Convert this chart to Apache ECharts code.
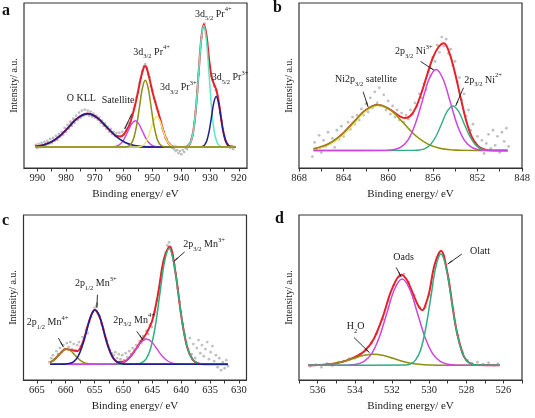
<!DOCTYPE html>
<html><head><meta charset="utf-8">
<script src="https://cdn.jsdelivr.net/npm/echarts@6/dist/echarts.min.js"></script>
<style>html,body{margin:0;padding:0;background:#fff}#c{width:535px;height:418px}</style>
</head><body><div id="c"></div>
<script>
// ---------- Panel a : Pr 3d ----------
const aTicks = [920,930,940,950,960,970,980,990];
const aMinor = [920,925,930,935,940,945,950,955,960,965,970,975,980,985,990];
const aPts = [[990.5,2],[990,-1],[989.5,3],[989,0],[988.5,4],[988,1],[987.5,5],[987,2],[986.5,6],[986,3],[985.5,8],[985,4],[984.5,9],[984,6],[983.5,11],[983,7],[982.5,13],[982,10],[981.5,15],[981,12],[980.5,19],[980,15],[979.5,22],[979,18],[978.5,25],[978,21],[977.5,28],[977,24],[976.5,31],[976,27],[975.5,34],[975,29],[974.5,36],[974,31],[973.5,37],[973,32],[972.5,36],[972,31],[971.5,35],[971,30],[970.5,33],[970,29],[969.5,31],[969,27],[968.5,29],[968,24],[967.5,26],[967,21],[966.5,23],[966,18],[965.5,20],[965,15],[964.5,18],[964,13],[963.5,15],[963,11],[962.5,14],[962,10],[961.5,14],[961,11],[960.5,15],[960,12],[959.5,19],[959,16],[958.5,24],[958,21],[957.5,29],[957,31],[956.5,38],[956,41],[955.5,49],[955,54],[954.5,63],[954,68],[953.5,75],[953,80],[952.5,82],[952,78],[951.5,72],[951,69],[950.5,60],[950,56],[949.5,48],[949,45],[948.5,38],[948,35],[947.5,28],[947,25],[946.5,18],[946,15],[945.5,9],[945,8],[944.5,4],[944,3],[943.5,1],[943,-1],[942.5,-2],[942,-4],[941.5,-3],[941,-6],[940.5,-4],[940,-7],[939.5,-3],[939,-5],[938.5,-1],[938,-2],[937.5,2],[937,3],[936.5,8],[936,12],[935.5,24],[935,35],[934.5,55],[934,72],[933.5,92],[933,108],[932.5,118],[932,122],[931.5,112],[931,103],[930.5,88],[930,79],[929.5,70],[929,66],[928.5,60],[928,56],[927.5,50],[927,43],[926.5,34],[926,26],[925.5,17],[925,11],[924.5,6],[924,3],[923.5,1],[923,-1],[922.5,1],[922,-2],[921.5,0]];
const aFit = [[990.6,0.7],[989,1.4],[988,1.9],[987,2.8],[986,4.2],[985,5.2],[984,7],[983,9],[982,11.3],[981,14],[980,17],[979,20],[978,23.5],[977,26.5],[976,28.5],[975,30.5],[974,32],[973,33],[972,33],[971,32],[970,30.5],[969,28.5],[968,26],[967,23],[966,20],[965,17],[964,14.5],[963,11.8],[962,10.8],[961,10.4],[960,12.5],[959,16.8],[958,22],[957,31],[956,42],[955,55],[954,69],[953,79],[952.5,80],[952,78],[951,67],[950,54.3],[949,44],[948,34.4],[947,24],[946,14],[945,6.5],[944,2.4],[943,0.7],[942,0.2],[940,0],[938.5,0.3],[937.6,1.3],[936.7,5.3],[935.8,16.2],[934.9,39],[934,72.8],[933.1,106.2],[932.2,121.4],[931.3,111.1],[930.4,87.6],[929.5,69.3],[928.6,61.7],[927.9,57],[927.1,46.3],[926.3,30.7],[925.5,16.2],[924.7,6.8],[923.9,2.2],[923.1,0.55],[921.2,0]];
const aOKLL = [[990.6,0.7],[988.75,1.5],[985.5,4.5],[982.25,10.7],[979,20],[975.75,29.1],[972.5,33],[969.25,29.1],[966,20],[962.75,10.7],[959.5,4.5],[956.25,1.5],[953,0.4],[949.75,0.1],[921.2,0]];
const aSatellite = [[990.6,0],[963.5,0.3],[962.25,1.1],[961,3.5],[959.75,8.4],[958.5,15.8],[957.25,22.9],[956,26],[954.75,22.9],[953.5,15.8],[952.25,8.4],[951,3.5],[949.75,1.1],[948.5,0.3],[921.2,0]];
const aPr4_32 = [[990.6,0],[959.5,0.15],[958.5,0.7],[957.5,2.9],[956.5,8.9],[955.5,21.4],[954.5,40],[953.5,58.2],[952.5,66],[951.5,58.2],[950.5,40],[949.5,21.4],[948.5,8.9],[947.5,2.9],[946.5,0.7],[945.5,0.15],[921.2,0]];
const aPr3_32 = [[990.6,0],[955.5,0.07],[954.5,0.33],[953.5,1.3],[952.5,4.1],[951.5,9.7],[950.5,18.2],[949.5,26.5],[948.5,30],[947.5,26.5],[946.5,18.2],[945.5,9.7],[944.5,4.1],[943.5,1.3],[942.5,0.33],[941.5,0.07],[921.2,0]];
const aPr4_52 = [[990.6,0],[938.5,0.27],[937.6,1.3],[936.7,5.3],[935.8,16.2],[934.9,39],[934,72.8],[933.1,105.9],[932.2,120],[931.3,105.9],[930.4,72.8],[929.5,39],[928.6,16.2],[927.7,5.3],[926.8,1.3],[925.9,0.27],[921.2,0]];
const aPr3_52 = [[990.6,0],[933.5,0.11],[932.7,0.55],[931.9,2.2],[931.1,6.8],[930.3,16.2],[929.5,30.3],[928.7,44.1],[927.9,50],[927.1,44.1],[926.3,30.3],[925.5,16.2],[924.7,6.8],[923.9,2.2],[923.1,0.55],[922.3,0.11],[921.2,0]];

// ---------- Panel b : Ni 2p ----------
const bTicks = [848,852,856,860,864,868];
const bMinor = [848,850,852,854,856,858,860,862,864,866,868];
const bPts = [[866.8,-6],[866.6,8],[866.4,2],[866.2,15],[866,-2],[865.8,10],[865.6,4],[865.4,18],[865.2,7],[865,12],[864.8,3],[864.6,20],[864.4,11],[864.2,24],[864,14],[863.8,19],[863.6,28],[863.4,21],[863.2,33],[863,26],[862.8,35],[862.6,30],[862.4,41],[862.2,35],[862,46],[861.8,38],[861.6,52],[861.4,42],[861.2,58],[861,47],[860.8,62],[860.6,44],[860.4,55],[860.2,40],[860,49],[859.8,36],[859.6,44],[859.4,33],[859.2,40],[859,30],[858.8,37],[858.6,28],[858.4,35],[858.2,31],[858,40],[857.8,36],[857.6,47],[857.4,44],[857.2,56],[857,52],[856.8,66],[856.6,60],[856.4,78],[856.2,74],[856,92],[855.8,88],[855.6,104],[855.4,97],[855.2,112],[855,103],[854.8,110],[854.6,96],[854.4,100],[854.2,84],[854,88],[853.8,68],[853.6,72],[853.4,50],[853.2,56],[853,34],[852.8,40],[852.6,20],[852.4,26],[852.2,8],[852,14],[851.8,2],[851.6,10],[851.4,-3],[851.2,7],[851,16],[850.8,2],[850.6,20],[850.4,5],[850.2,14],[850,-2],[849.8,18],[849.6,9],[849.4,22],[849.2,4]];
const bFit = [[866.7,1.6],[866,3.4],[865,8.6],[864,17.4],[863,29.1],[862,39.9],[861,45],[860,41.7],[859,34],[858.5,32],[858,34.3],[857.5,42.9],[857,57.5],[856.5,75],[856,91.5],[855.5,102],[855,106],[854.5,96],[854,76],[853.5,52],[853,29.2],[852.5,13.4],[852,4.9],[851.5,1.45],[851,0.3],[850,0],[849.3,0]];
const bSatOlive = [[866.7,1.6],[866.53,2.0],[865.4,6.1],[864.28,14.6],[863.15,27.3],[862.03,39.7],[860.9,45],[859.78,39.7],[858.65,27.3],[857.53,14.6],[856.4,6.1],[855.28,2.0],[854.15,0.5],[853.03,0.1],[849.3,0]];
const bSatYellow = [[866.7,1.0],[866.53,1.4],[865.4,5.0],[864.28,13.0],[863.15,25.5],[862.03,38.5],[860.9,44.5],[859.78,39.5],[858.65,27.3],[857.53,14.6],[856.4,6.1],[855.28,2.0],[854.15,0.5],[853.03,0.1],[849.3,0]];
const bNi3 = [[866.7,0],[860.08,0.18],[859.45,0.9],[858.83,3.5],[858.2,10.8],[857.58,26],[856.95,48.5],[856.33,70.6],[855.7,80],[855.08,70.6],[854.45,48.5],[853.83,26],[853.2,10.8],[852.58,3.5],[851.95,0.9],[851.33,0.18],[849.3,0]];
const bNi2 = [[866.7,0],[857.7,0.1],[857.2,0.5],[856.7,1.9],[856.2,6.0],[855.7,14.3],[855.2,26.7],[854.7,38.8],[854.2,44],[853.7,38.8],[853.2,26.7],[852.7,14.3],[852.2,6.0],[851.7,1.9],[851.2,0.5],[850.7,0.1],[849.3,0]];

// ---------- Panel c : Mn 2p ----------
const cTicks = [630,635,640,645,650,655,660,665];
const cMinor = [630,632.5,635,637.5,640,642.5,645,647.5,650,652.5,655,657.5,660,662.5,665];
const cPts = [[662.8,2],[662.5,6],[662.2,9],[661.9,5],[661.6,13],[661.3,10],[661,16],[660.7,12],[660.4,19],[660.1,15],[659.8,21],[659.5,17],[659.2,22],[658.9,15],[658.6,20],[658.3,14],[658,19],[657.7,22],[657.4,18],[657.1,27],[656.8,24],[656.5,34],[656.2,31],[655.9,42],[655.6,47],[655.3,52],[655,56],[654.7,58],[654.4,50],[654.1,48],[653.8,40],[653.5,35],[653.2,28],[652.9,24],[652.6,18],[652.3,14],[652,11],[651.7,9],[651.4,12],[651.1,6],[650.8,10],[650.5,5],[650.2,9],[649.9,4],[649.6,11],[649.3,7],[649,13],[648.7,10],[648.4,16],[648.1,14],[647.8,19],[647.5,17],[647.2,23],[646.9,21],[646.6,28],[646.3,25],[646,33],[645.7,30],[645.4,39],[645.1,37],[644.8,48],[644.5,52],[644.2,63],[643.9,72],[643.6,83],[643.3,95],[643,102],[642.7,111],[642.4,118],[642.1,121],[641.8,116],[641.5,108],[641.2,99],[640.9,90],[640.6,75],[640.3,62],[640,52],[639.7,40],[639.4,30],[639.1,22],[638.8,15],[638.5,26],[638.2,10],[637.9,20],[637.6,6],[637.3,16],[637,24],[636.7,11],[636.4,19],[636.1,8],[635.8,15],[635.5,22],[635.2,5],[634.9,12],[634.6,18],[634.3,3],[634,9],[633.7,-3],[633.4,6],[633.1,-6],[632.8,2],[632.5,-4],[632.2,4],[631.9,-2]];
const cFit = [[662.7,1.8],[662,4.4],[661,10.4],[660,15],[659,14],[658,13],[657,22.3],[656,41.7],[655,54],[654,45.1],[653,24.2],[652,8.4],[651,2.3],[650,2.4],[649,6.2],[648,13.6],[647,22.5],[646,30.9],[645,43.6],[644,70.3],[643,104.4],[642,116.9],[641,91.3],[640,48.6],[639,17.6],[638,4.3],[637,0.7],[636,0.07],[631.9,0]];
const cMn4_12 = [[662.7,1.8],[661.9,4.87],[661.2,9.1],[660.5,13.2],[659.8,15],[659.1,13.2],[658.4,9.1],[657.7,4.87],[657,2.03],[656.3,0.66],[655.6,0.17],[654.9,0.03],[631.9,0]];
const cMn3_12 = [[662.7,0],[660.15,0.12],[659.4,0.6],[658.65,2.37],[657.9,7.3],[657.15,17.5],[656.4,32.8],[655.65,47.7],[654.9,54],[654.15,47.7],[653.4,32.8],[652.65,17.5],[651.9,7.3],[651.15,2.37],[650.4,0.6],[649.65,0.12],[631.9,0]];
const cMn4_32 = [[662.7,0],[652.3,0.05],[651.4,0.28],[650.5,1.1],[649.6,3.4],[648.7,8.1],[647.8,15.2],[646.9,22.1],[646,25],[645.1,22.1],[644.2,15.2],[643.3,8.1],[642.4,3.4],[641.5,1.1],[640.6,0.28],[639.7,0.05],[631.9,0]];
const cMn3_32 = [[662.7,0],[647.7,0.25],[646.9,1.27],[646.1,5.05],[645.3,15.6],[644.5,37.3],[643.7,69.8],[642.9,101.5],[642.1,115],[641.3,101.5],[640.5,69.8],[639.7,37.3],[638.9,15.6],[638.1,5.05],[637.3,1.27],[636.5,0.25],[631.9,0]];

// ---------- Panel d : O 1s ----------
const dTicks = [526,528,530,532,534,536];
const dMinor = [525,526,527,528,529,530,531,532,533,534,535,536,537];
const dPts = [[536.4,-1],[536.1,0.5],[535.8,-2],[535.5,1.5],[535.2,-0.5],[534.9,3],[534.6,4],[534.3,6.5],[534,7],[533.7,11],[533.4,15],[533.1,22],[532.8,32],[532.5,46],[532.2,64],[531.9,80],[531.6,88],[531.35,91],[531.1,83],[530.8,70],[530.5,58],[530.2,58],[529.95,70],[529.7,98],[529.45,112],[529.2,109],[528.95,86],[528.7,56],[528.45,30],[528.2,13],[527.95,5],[527.7,2],[527.4,3],[527.1,1],[526.8,2.5],[526.5,0],[526.3,1.5]];
const dFit = [[536.5,0],[536,0.3],[535.5,0.8],[535,2.1],[534.5,4.4],[534,8],[533.5,13.7],[533,25.4],[532.5,47.8],[532,76],[531.5,90.3],[531.2,85.4],[531,77.4],[530.7,64],[530.5,57],[530.35,55],[530.2,60],[530,72],[529.7,100.5],[529.36,114.3],[529,90.6],[528.7,54.2],[528.5,32.7],[528.2,12],[528,5.2],[527.7,1.2],[527.4,0.2],[526.2,0]];
const dH2O = [[536.5,0.05],[536.3,0.12],[535.75,0.48],[535.2,1.49],[534.65,3.57],[534.1,6.67],[533.55,9.7],[533,11],[532.45,9.7],[531.9,6.67],[531.35,3.57],[530.8,1.49],[530.25,0.48],[529.7,0.12],[529.15,0.02],[526.2,0]];
const dOads = [[536.5,0],[534.32,0.19],[533.91,0.95],[533.5,3.78],[533.09,11.6],[532.68,27.9],[532.27,52.2],[531.86,75.9],[531.45,86],[531.04,75.9],[530.63,52.2],[530.22,27.9],[529.81,11.6],[529.4,3.78],[528.99,0.95],[528.58,0.19],[526.2,0]];
const dOlatt = [[536.5,0],[531.29,0.24],[531.01,1.23],[530.74,4.9],[530.46,15],[530.19,36],[529.91,67.3],[529.64,98],[529.36,111],[529.09,98],[528.81,67.3],[528.54,36],[528.26,15],[527.99,4.9],[527.71,1.23],[527.44,0.24],[526.2,0]];

// ---------- styling / layout ----------
const SERIF = '"Liberation Serif", "Times New Roman", serif';
const C = {red:'#e8202a', navy:'#1f1f8f', olive:'#8e8e12', yellow:'#ecec70', magenta:'#cf45e0', cyan:'#5aebc6', green:'#2fae80', dot:'#b0b0b0', ink:'#1a1a1a'};
const grids = [
  {left:24, top:3, width:223, height:165},
  {left:299, top:3, width:223, height:165},
  {left:23.5, top:215, width:223, height:165},
  {left:299, top:215, width:223, height:165}
];
const xr = [[917.2,994.6,aTicks,aMinor],[848,868,bTicks,bMinor],[628.7,667.3,cTicks,cMinor],[525,537,dTicks,dMinor]];
const yr = [[-20.7,142.3],[-17.3,145.7],[-15.7,148.3],[-14.7,150]];

const arrows = [
  [[[957.2,33],[959.6,18]]],
  [[[862.25,58],[861.8,43]],[[857.1,88],[855.85,79]],[[853.25,62],[853.95,44]]],
  [[[661.26,26],[660.4,17]],[[654.5,69],[654.6,56]],[[647.7,32.7],[646.6,24]],[[639.4,111.7],[641.3,102]]],
  [[[534.04,27.7],[533.2,12.5]],[[531.77,97.7],[531.5,88]],[[528.24,111],[529.0,101]]]
];

function curve(g, data, color, w, z, extra){
  return Object.assign({type:'line', xAxisIndex:g, yAxisIndex:g, data:data, symbol:'none', showSymbol:false,
    smooth:0.35, lineStyle:{color:color, width:w}, itemStyle:{color:color}, z:z, silent:true, animation:false}, extra||{});
}
function dots(g, data){
  return {type:'scatter', xAxisIndex:g, yAxisIndex:g, data:data, symbol:'circle', symbolSize:2.8,
    itemStyle:{color:C.dot}, z:1, silent:true, animation:false};
}
function arrowML(g){
  return {markLine:{silent:true, animation:false, symbol:['none','arrow'], symbolSize:[1,6],
    lineStyle:{color:C.ink, width:0.9, type:'solid'}, label:{show:false}, emphasis:{disabled:true},
    data: arrows[g].map(a=>[{coord:a[0]},{coord:a[1]}])}};
}

const series = [
  dots(0,aPts),
  curve(0,aFit,C.red,2,2,arrowML(0)),
  curve(0,aPr4_52,C.cyan,1.5,3),
  curve(0,aPr3_52,C.navy,1.5,4),
  curve(0,aSatellite,C.magenta,1.4,5),
  curve(0,aOKLL,C.navy,1.6,6),
  curve(0,aPr3_32,C.yellow,1.4,7),
  curve(0,aPr4_32,C.olive,1.5,8),

  dots(1,bPts),
  curve(1,bFit,C.red,2,2,arrowML(1)),
  curve(1,bSatYellow,C.yellow,1.5,3),
  curve(1,bSatOlive,C.olive,1.4,4),
  curve(1,bNi2,C.green,1.4,5),
  curve(1,bNi3,C.magenta,1.5,6),

  dots(2,cPts),
  curve(2,cFit,C.red,2,2,arrowML(2)),
  curve(2,cMn4_12,C.olive,1.5,3),
  curve(2,cMn3_32,C.green,1.5,4),
  curve(2,cMn4_32,C.magenta,1.4,5),
  curve(2,cMn3_12,C.navy,1.6,6),

  dots(3,dPts),
  curve(3,dFit,C.red,2,2,arrowML(3)),
  curve(3,dH2O,C.olive,1.5,3),
  curve(3,dOads,C.magenta,1.5,4),
  curve(3,dOlatt,C.green,1.5,5)
];

const xAxis = xr.map((r,i)=>({
  type:'value', gridIndex:i, inverse:true, min:r[0], max:r[1],
  splitLine:{show:false},
  axisLine:{show:true, onZero:false, lineStyle:{color:'#333', width:1.2}},
  axisTick:{show:true, inside:false, length:3.5, customValues:r[3], lineStyle:{color:'#333', width:1}},
  axisLabel:{show:true, customValues:r[2], color:C.ink, fontFamily:SERIF, fontSize:10.5, margin:5},
  name:'Binding energy/ eV', nameLocation:'middle', nameGap:21,
  nameTextStyle:{fontFamily:SERIF, fontSize:11, color:C.ink}
}));
const yAxis = yr.map((r,i)=>({
  type:'value', gridIndex:i, min:r[0], max:r[1],
  splitLine:{show:false}, axisLine:{show:false}, axisTick:{show:false}, axisLabel:{show:false},
  name:'Intensity/ a.u.', nameLocation:'middle', nameGap:5, nameRotate:90,
  nameTextStyle:{fontFamily:SERIF, fontSize:10, color:C.ink}
}));

// annotation texts (pixel placement)
const rich = {
  n:{fontFamily:SERIF, fontSize:10, lineHeight:16, verticalAlign:'middle', fill:C.ink, color:C.ink},
  sub:{fontFamily:SERIF, fontSize:6.5, lineHeight:8, verticalAlign:'bottom', fill:C.ink, color:C.ink},
  sup:{fontFamily:SERIF, fontSize:6.5, lineHeight:8, verticalAlign:'top', fill:C.ink, color:C.ink}
};
const notes = [
  [66.7,98.3,'{n|O KLL}'],
  [101.7,100,'{n|Satellite}'],
  [133.3,52,'{n|3d}{sub|3/2}{n| Pr}{sup|4+}'],
  [160,87.3,'{n|3d}{sub|3/2}{n| Pr}{sup|3+}'],
  [195,14,'{n|3d}{sub|5/2}{n| Pr}{sup|4+}'],
  [211.7,77.3,'{n|3d}{sub|5/2}{n| Pr}{sup|3+}'],
  [335,79.3,'{n|Ni2p}{sub|3/2}{n| satellite}'],
  [395,51.7,'{n|2p}{sub|3/2}{n| Ni}{sup|3+}'],
  [464.3,80,'{n|2p}{sub|3/2}{n| Ni}{sup|2+}'],
  [26.7,322.3,'{n|2p}{sub|1/2}{n| Mn}{sup|4+}'],
  [75,283.3,'{n|2p}{sub|1/2}{n| Mn}{sup|3+}'],
  [113.3,320,'{n|2p}{sub|3/2}{n| Mn}{sup|4+}'],
  [183.3,244.3,'{n|2p}{sub|3/2}{n| Mn}{sup|3+}'],
  [346.7,326.7,'{n|H}{sub|2}{n|O}'],
  [393.3,257.7,'{n|Oads}'],
  [470,251.7,'{n|Olatt}']
];
const letters = [[2,11,'a'],[273,8,'b'],[2,221,'c'],[275,219,'d']];
const graphic = notes.map(t=>({type:'text', x:t[0], y:t[1], silent:true, z:50,
  style:{text:t[2], rich:rich, verticalAlign:'middle', align:'left', fill:C.ink}}))
 .concat(letters.map(t=>({type:'text', x:t[0], y:t[1], silent:true, z:50,
  style:{text:t[2], font:'bold 16px ' + SERIF, verticalAlign:'middle', fill:'#111'}})));

const chart = echarts.init(document.getElementById('c'), null, {renderer:'canvas'});
chart.setOption({
  animation:false,
  backgroundColor:'#fff',
  grid: grids.map(g=>Object.assign({show:true, borderColor:'#333', borderWidth:1.2, backgroundColor:'transparent', containLabel:false}, g)),
  xAxis: xAxis, yAxis: yAxis, series: series, graphic: graphic
});
</script></body></html>
